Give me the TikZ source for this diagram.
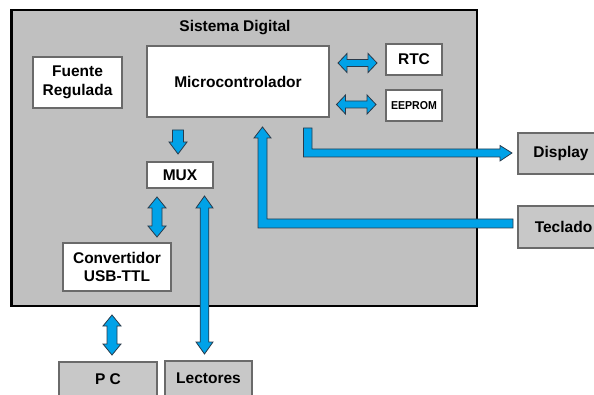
\documentclass[tikz,border=0pt]{standalone}
\usepackage{fontspec}
\setmainfont{Liberation Sans}
\definecolor{panel}{HTML}{C0C0C0}
\definecolor{extbox}{HTML}{C8C8C8}
\definecolor{bluearr}{HTML}{00A2E8}
\definecolor{arredge}{HTML}{2A3A4A}
\definecolor{boxedge}{HTML}{6A6A6A}
\newcommand\HDArrow[6]{% x1 x2 yc shafthalf headhalf headlen
  \filldraw[blk] (#1,#3) -- ({#1+#6},{#3-#5}) -- ({#1+#6},{#3-#4}) -- ({#2-#6},{#3-#4}) -- ({#2-#6},{#3-#5}) -- (#2,#3)
   -- ({#2-#6},{#3+#5}) -- ({#2-#6},{#3+#4}) -- ({#1+#6},{#3+#4}) -- ({#1+#6},{#3+#5}) -- cycle;}
\newcommand\VDArrow[6]{% xc y1 y2 shafthalf headhalf headlen
  \filldraw[blk] (#1,#2) -- ({#1+#5},{#2+#6}) -- ({#1+#4},{#2+#6}) -- ({#1+#4},{#3-#6}) -- ({#1+#5},{#3-#6}) -- (#1,#3)
   -- ({#1-#5},{#3-#6}) -- ({#1-#4},{#3-#6}) -- ({#1-#4},{#2+#6}) -- ({#1-#5},{#2+#6}) -- cycle;}
\tikzset{
  lbl/.style={font=\bfseries\fontsize{15.5}{18.5}\selectfont, align=center, inner sep=0pt},
  wbox/.style={lbl, draw=boxedge, fill=white, line width=1.2pt},
  gbox/.style={lbl, draw=boxedge, fill=extbox, line width=1.2pt},
  blk/.style={fill=bluearr, draw=arredge, line width=0.8pt, line join=miter},
}
\begin{document}
\begin{tikzpicture}[x=1pt,y=-1pt]
\useasboundingbox (0,0) rectangle (594,395);
\clip (0,0) rectangle (594,395);
% main panel
\node[draw=black, line width=2.5pt, fill=panel, minimum width=465.5pt, minimum height=295.5pt, inner sep=0pt] (sys) at (244,158) {};
\node[lbl] (title) at (235,28) {Sistema Digital};
% inner boxes
\node[wbox, minimum width=89pt, minimum height=51pt] (fuente) at (77.5,82.5) {Fuente\\Regulada};
\node[wbox, minimum width=182pt, minimum height=71pt] (micro) at (238,81.5) {Microcontrolador};
\node[wbox, minimum width=56pt, minimum height=31pt] (rtc) at (414,59.5) {RTC};
\node[wbox, minimum width=56pt, minimum height=31pt, font=\bfseries\fontsize{11.5}{13}\selectfont] (eeprom) at (414,105.5) {\scalebox{0.92}[1]{EEPROM}};
\node[wbox, minimum width=66pt, minimum height=26pt] (mux) at (180,175) {MUX};
\node[wbox, minimum width=108pt, minimum height=48pt] (conv) at (117,267) {Convertidor\\USB-TTL};
% external boxes
\node[gbox, minimum width=86pt, minimum height=41pt] (display) at (561,153.5) {Display};
\node[gbox, minimum width=91pt, minimum height=42pt] (teclado) at (563.5,227) {Teclado};
\node[gbox, minimum width=98pt, minimum height=35pt] (pc) at (108,379.5) {P C};
\node[gbox, minimum width=87pt, minimum height=35pt] (lectores) at (208.5,378.5) {Lectores};
% arrows
\HDArrow{338}{377}{63}{3.5}{9.5}{9}
\HDArrow{336.5}{376}{104.5}{3.5}{9.5}{9}
\filldraw[blk] (172.5,130) -- (183.5,130) -- (183.5,142) -- (187,142) -- (178,154) -- (169,142) -- (172.5,142) -- cycle;
\VDArrow{157}{197}{237}{5}{9}{11}
\VDArrow{204.5}{196}{354}{4.3}{8.5}{12}
\VDArrow{112}{315}{355}{5}{9}{11}
% to display
\filldraw[blk] (303.5,128) -- (312,128) -- (312,149) -- (500,149) -- (500,145.5) -- (512,153) -- (500,161) -- (500,157) -- (303.5,157) -- cycle;
% from teclado
\filldraw[blk] (513,219) -- (513,228) -- (258,228) -- (258,138) -- (254,138) -- (262.5,127) -- (271,138) -- (267,138) -- (267,219) -- cycle;
\end{tikzpicture}
\end{document}
